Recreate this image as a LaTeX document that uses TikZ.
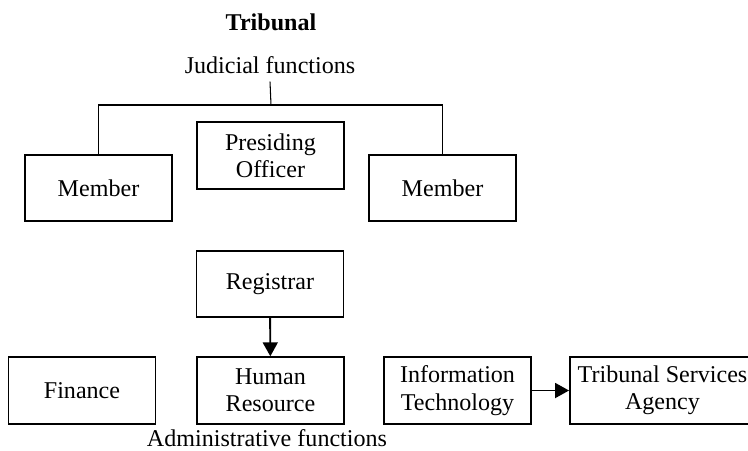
\documentclass[tikz,border=0pt]{standalone}
\usepackage{fontspec}
\setmainfont{Liberation Serif}
\usetikzlibrary{arrows.meta}
\tikzset{
  unit/.style={draw,line width=1.1pt,minimum width=2.94cm,minimum height=1.33cm,align=center,inner sep=1pt},
  link/.style={line width=1.1pt},
  flow/.style={line width=1.1pt,-{Triangle[length=0.28cm,width=0.3cm]}}
}

\begin{document}
\begin{tikzpicture}[font=\fontsize{13.7}{15.5}\selectfont]
            \useasboundingbox (0,0) rectangle (14.96,-9);
            \clip (0,0) rectangle (14.96,-9);
            % judicial side
            \node[font=\fontsize{13.7}{15.5}\selectfont\bfseries] (trib) at (5.42,-0.44) {Tribunal};
            \node (jud) at (5.4,-1.3) {Judicial functions};
            \coordinate (bus) at (5.42,-2.1);
            \node[unit] (memL) at (1.97,-3.76) {Member};
            \node[unit] (pres) at (5.41,-3.11) {Presiding\\Officer};
            \node[unit] (memR) at (8.85,-3.76) {Member};
            \draw[line width=0.6pt] ([yshift=-1pt]jud.south) -- (bus);
            \draw[link] (memL.north) |- (bus) -| (memR.north);
            % administrative side
            \node[unit] (reg) at (5.4,-5.68) {Registrar};
            \node[unit] (fin) at (1.64,-7.81) {Finance};
            \node[unit] (hr) at (5.41,-7.81) {Human\\Resource};
            \node[unit] (it) at (9.15,-7.81) {Information\\Technology};
            \node[unit,minimum width=3.7cm] (tsa) at (13.25,-7.81) {Tribunal Services\\Agency};
            \node (adm) at (5.34,-8.76) {Administrative functions};
            \draw[flow] (reg) -- (hr);
            \draw[flow] (it) -- (tsa);
        \end{tikzpicture}
\end{document}
